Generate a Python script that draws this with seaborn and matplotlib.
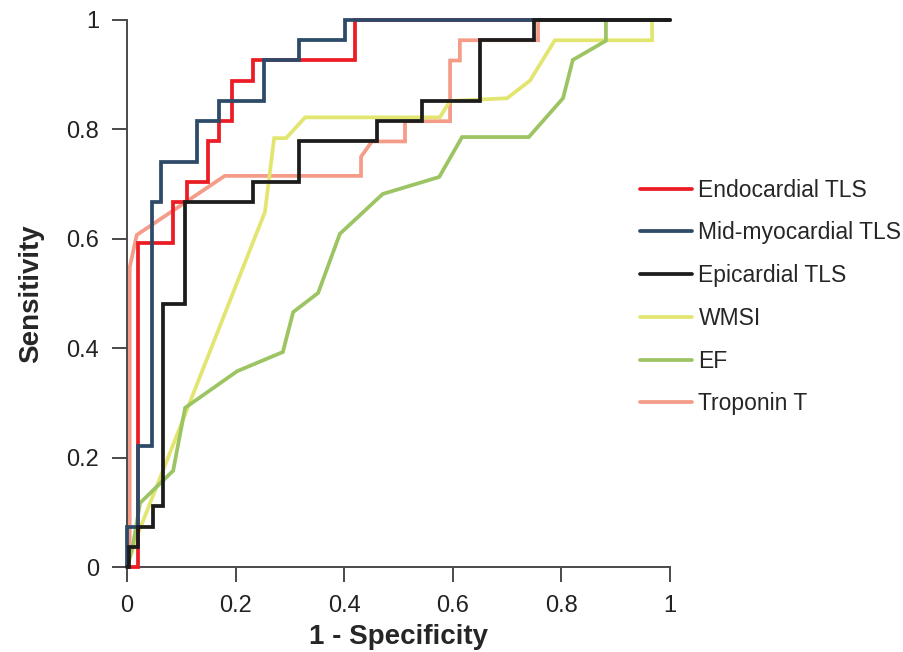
import matplotlib
matplotlib.use("Agg")
import matplotlib.pyplot as plt
import seaborn as sns
import pandas as pd

# ---- data ----
series_names = ["Endocardial TLS", "Mid-myocardial TLS", "Epicardial TLS",
                "WMSI", "EF", "Troponin T"]

# step ROC points (drawn with steps-post)
endo_fpr = [0, 0.02, 0.085, 0.11, 0.15, 0.17, 0.193, 0.232, 0.42, 1.0]
endo_tpr = [0, 0.593, 0.667, 0.704, 0.778, 0.815, 0.889, 0.926, 1.0, 1.0]

mid_fpr = [0, 0, 0.02, 0.046, 0.063, 0.129, 0.169, 0.252, 0.317, 0.401, 1.0]
mid_tpr = [0, 0.074, 0.222, 0.667, 0.741, 0.815, 0.852, 0.926, 0.963, 1.0, 1.0]

epi_fpr = [0, 0.004, 0.02, 0.048, 0.066, 0.107, 0.232, 0.317, 0.46, 0.543, 0.65, 0.75, 1.0]
epi_tpr = [0, 0.037, 0.074, 0.111, 0.481, 0.667, 0.704, 0.778, 0.815, 0.852, 0.963, 1.0, 1.0]

# polyline ROC vertices
wmsi_fpr = [0, 0.02, 0.254, 0.271, 0.293, 0.328, 0.576, 0.595, 0.70, 0.742, 0.788, 0.967, 0.967, 1.0]
wmsi_tpr = [0, 0.06, 0.649, 0.784, 0.784, 0.822, 0.822, 0.852, 0.857, 0.889, 0.963, 0.963, 1.0, 1.0]

ef_fpr = [0, 0.011, 0.024, 0.085, 0.107, 0.203, 0.287, 0.306, 0.352, 0.392, 0.471, 0.575,
          0.617, 0.740, 0.803, 0.821, 0.882, 0.882, 1.0]
ef_tpr = [0, 0.04, 0.117, 0.176, 0.291, 0.358, 0.393, 0.466, 0.501, 0.609, 0.682, 0.713,
          0.786, 0.786, 0.857, 0.927, 0.962, 1.0, 1.0]

trop_fpr = [0, 0.005, 0.005, 0.018, 0.18, 0.431, 0.431, 0.451, 0.512, 0.512, 0.595, 0.595,
            0.613, 0.613, 0.757, 0.757, 1.0]
trop_tpr = [0, 0.02, 0.548, 0.607, 0.715, 0.715, 0.75, 0.778, 0.778, 0.815, 0.815, 0.926,
            0.926, 0.963, 0.963, 1.0, 1.0]

x_ticks = [0, 0.2, 0.4, 0.6, 0.8, 1]
x_ticklabels = ["0", "0.2", "0.4", "0.6", "0.8", "1"]
y_ticks = [0, 0.2, 0.4, 0.6, 0.8, 1]
y_ticklabels = ["0", "0.2", "0.4", "0.6", "0.8", "1"]

colors = {
    "Endocardial TLS": "#EC1C24",
    "Mid-myocardial TLS": "#2D4A68",
    "Epicardial TLS": "#1C1C1C",
    "WMSI": "#E2E670",
    "EF": "#9DC463",
    "Troponin T": "#F49C88",
}

curves = {
    "Endocardial TLS": (endo_fpr, endo_tpr, "steps-post", 4),
    "Mid-myocardial TLS": (mid_fpr, mid_tpr, "steps-post", 5),
    "Epicardial TLS": (epi_fpr, epi_tpr, "steps-post", 6),
    "WMSI": (wmsi_fpr, wmsi_tpr, "default", 2),
    "EF": (ef_fpr, ef_tpr, "default", 3),
    "Troponin T": (trop_fpr, trop_tpr, "default", 1),
}

sns.set_style("ticks")
plt.rcParams["font.family"] = ["Liberation Sans", "DejaVu Sans"]

fig = plt.figure(figsize=(9.04, 6.52), dpi=100)
ax = fig.add_axes([127 / 904, 85 / 652, 543 / 904, 547 / 652])

handles = {}
for name in series_names:
    fx, fy, ds, z = curves[name]
    df = pd.DataFrame({"fpr": fx, "tpr": fy})
    sns.lineplot(data=df, x="fpr", y="tpr", ax=ax, estimator=None, sort=False,
                 color=colors[name], linewidth=2.7, drawstyle=ds, zorder=z,
                 label=name, legend=False)
    line = ax.lines[-1]
    line.set_clip_on(False)
    line.set_solid_joinstyle("miter")
    handles[name] = line

ax.set_xlim(0, 1)
ax.set_ylim(0, 1)
ax.set_xticks(x_ticks)
ax.set_xticklabels(x_ticklabels)
ax.set_yticks(y_ticks)
ax.set_yticklabels(y_ticklabels)

for side in ["top", "right"]:
    ax.spines[side].set_visible(False)
for side in ["left", "bottom"]:
    ax.spines[side].set_color("#4a4a4a")
    ax.spines[side].set_linewidth(1.4)
ax.tick_params(axis="both", direction="out", length=11, width=1.4, color="#4a4a4a",
               labelsize=17, labelcolor="#222222")
ax.tick_params(axis="x", pad=9)
ax.tick_params(axis="y", pad=9)

ax.set_xlabel("1 - Specificity", fontsize=20, fontweight="bold", labelpad=5)
ax.set_ylabel("Sensitivity", fontsize=20, fontweight="bold", labelpad=16)

leg = ax.legend([handles[n] for n in series_names], series_names,
                loc="center left", bbox_to_anchor=(640 / 904, 1 - 297 / 652),
                bbox_transform=fig.transFigure, frameon=False, fontsize=16.5,
                handlelength=2.25, handletextpad=0.3, labelspacing=0.86,
                borderpad=0, borderaxespad=0)

fig.savefig("out.png", dpi=100)
